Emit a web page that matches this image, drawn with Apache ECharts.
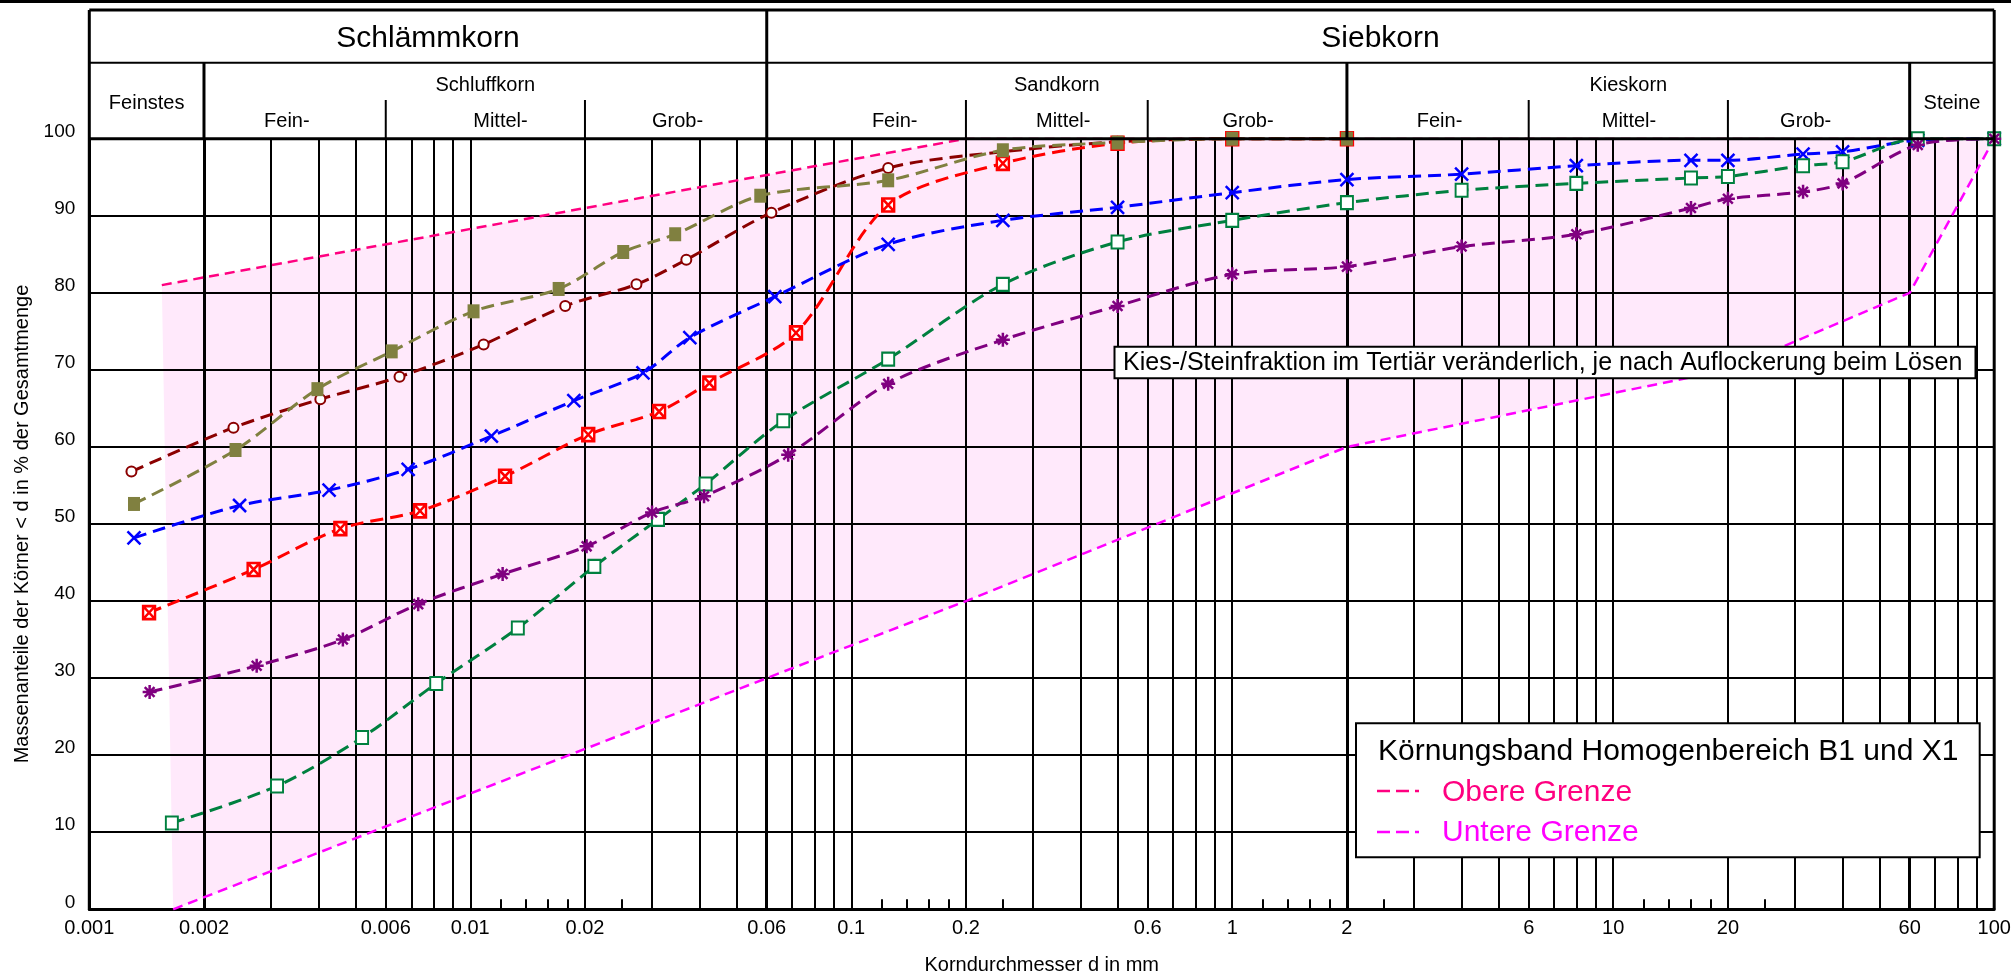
<!DOCTYPE html>
<html>
<head>
<meta charset="utf-8">
<title>Körnungsband Homogenbereich B1 und X1</title>
<script src="https://cdn.jsdelivr.net/npm/echarts@6/dist/echarts.min.js"></script>
<style>
  html, body { margin: 0; padding: 0; background: #fff; }
  #chart { width: 2011px; height: 975px; }
</style>
</head>
<body>
<div id="chart"></div>
<script>
const FONT = '"Liberation Sans", Arial, Helvetica, sans-serif';

// Korndurchmesser d [mm] und Siebdurchgang [%] je Probe
const dMaroon = [0.00129, 0.00239, 0.00404, 0.00652, 0.01084, 0.01775, 0.0273, 0.0369, 0.0617, 0.125, 0.25, 0.5, 1, 2];
const pMaroon = [56.8, 62.5, 66.2, 69.1, 73.3, 78.3, 81.1, 84.3, 90.4, 96.2, 98.3, 99.6, 100, 100];

const dRed = [0.001435, 0.0027, 0.00456, 0.00738, 0.01234, 0.0204, 0.0313, 0.0424, 0.0716, 0.125, 0.25, 0.5, 1, 2];
const pRed = [38.5, 44.1, 49.4, 51.7, 56.2, 61.6, 64.6, 68.3, 74.8, 91.4, 96.8, 99.4, 100, 100];

const dBlue = [0.00131, 0.00248, 0.00426, 0.00687, 0.01136, 0.0187, 0.0284, 0.0377, 0.063, 0.125, 0.25, 0.5, 1, 2, 4, 8, 16, 20, 31.5, 40, 63, 100];
const pBlue = [48.2, 52.4, 54.4, 57.1, 61.4, 66.0, 69.6, 74.2, 79.5, 86.3, 89.4, 91.1, 93.0, 94.7, 95.4, 96.5, 97.2, 97.2, 98.0, 98.3, 99.8, 100];

const dGreen = [0.001647, 0.00311, 0.0052, 0.00814, 0.01333, 0.02117, 0.0311, 0.04146, 0.0663, 0.125, 0.25, 0.5, 1, 2, 4, 8, 16, 20, 31.5, 40, 63, 100];
const pGreen = [11.2, 16.0, 22.3, 29.3, 36.5, 44.5, 50.6, 55.2, 63.4, 71.4, 81.1, 86.6, 89.4, 91.7, 93.3, 94.2, 94.9, 95.1, 96.5, 97.0, 100, 100];

const dPurple = [0.00144, 0.00275, 0.00463, 0.0073, 0.01216, 0.0202, 0.030, 0.04108, 0.0683, 0.125, 0.25, 0.5, 1, 2, 4, 8, 16, 20, 31.5, 40, 63, 100];
const pPurple = [28.2, 31.6, 35.0, 39.6, 43.5, 47.1, 51.5, 53.6, 59.0, 68.2, 73.9, 78.3, 82.4, 83.4, 86.0, 87.6, 91.0, 92.2, 93.1, 94.2, 99.2, 100];

const dOlive = [0.00131, 0.00242, 0.00397, 0.00622, 0.0102, 0.01706, 0.0252, 0.0345, 0.0577, 0.125, 0.25, 0.5, 1, 2];
const pOlive = [52.6, 59.6, 67.5, 72.4, 77.6, 80.5, 85.3, 87.6, 92.6, 94.6, 98.5, 99.5, 100, 100];

// Körnungsband
const dUpper = [0.00155, 0.2, 100];
const pUpper = [81, 100, 100];
const dLower = [0.00166, 0.06, 0.2, 2, 20, 60, 100];
const pLower = [0, 30, 40, 60, 70, 80, 100];

// Achsen / Raster
const xLabelValues = [0.001, 0.002, 0.006, 0.01, 0.02, 0.06, 0.1, 0.2, 0.6, 1, 2, 6, 10, 20, 60, 100];
const gridX = [0.002, 0.003, 0.004, 0.005, 0.006, 0.007, 0.008, 0.009, 0.01,
  0.02, 0.03, 0.04, 0.05, 0.06, 0.07, 0.08, 0.09, 0.1,
  0.2, 0.3, 0.4, 0.5, 0.6, 0.7, 0.8, 0.9, 1,
  2, 3, 4, 5, 6, 7, 8, 9, 10,
  20, 30, 40, 50, 60, 70, 80, 90];
const boldX = [0.002, 0.06, 2, 60];
const shortTicksX = [0.012, 0.014, 0.016, 0.018, 0.025, 0.12, 0.14, 0.16, 0.18, 0.25,
  1.2, 1.4, 1.6, 1.8, 2.5, 12, 14, 16, 18, 25];
const gridY = [10, 20, 30, 40, 50, 60, 70, 80, 90];

// Kopfzeile
const headMain = ['Schlämmkorn', 'Siebkorn'];
const headMainBounds = [[0.001, 0.06], [0.06, 100]];
const headGroups = ['Feinstes', 'Schluffkorn', 'Sandkorn', 'Kieskorn', 'Steine'];
const headGroupBounds = [[0.001, 0.002], [0.002, 0.06], [0.06, 2], [2, 60], [60, 100]];
const headSub = ['Fein-', 'Mittel-', 'Grob-', 'Fein-', 'Mittel-', 'Grob-', 'Fein-', 'Mittel-', 'Grob-'];
const headSubAt = [0.0033, 0.012, 0.035, 0.13, 0.36, 1.1, 3.5, 11, 32];
const headSubDividers = [0.006, 0.02, 0.2, 0.6, 6, 20];

const pairs = (d, p) => d.map((v, i) => [v, p[i]]);

const upperPts = pairs(dUpper, pUpper);
const lowerPts = pairs(dLower, pLower);
const bandPts = upperPts.concat(lowerPts.slice().reverse());

const gridMarks = [];
gridX.forEach(v => gridMarks.push({ xAxis: v, lineStyle: { width: boldX.indexOf(v) >= 0 ? 3 : 2 } }));
gridY.forEach(v => gridMarks.push({ yAxis: v }));
shortTicksX.forEach(v => gridMarks.push([{ coord: [v, 0] }, { coord: [v, 1.3] }]));

const dash = [13, 7];
function probe(name, d, p, color, symbol, size, itemStyle) {
  return {
    name: name,
    type: 'line',
    data: pairs(d, p),
    smooth: 0.3,
    z: 10,
    symbol: symbol,
    symbolSize: size,
    lineStyle: { color: color, width: 3, type: dash },
    itemStyle: itemStyle,
    emphasis: { disabled: true }
  };
}

const chart = echarts.init(document.getElementById('chart'));

const option = {
  animation: false,
  backgroundColor: '#fff',
  textStyle: { fontFamily: FONT },
  grid: {
    left: 89.3,
    right: 16.8,
    top: 138.7,
    bottom: 65.7,
    outerBoundsMode: 'none'
  },
  xAxis: {
    type: 'log',
    logBase: 10,
    min: 0.001,
    max: 100,
    name: 'Korndurchmesser d in mm',
    nameLocation: 'middle',
    nameGap: 46,
    nameMoveOverlap: false,
    nameTextStyle: { color: '#000', fontSize: 20, fontFamily: FONT },
    axisLine: { show: true, lineStyle: { color: '#000', width: 3 } },
    axisTick: { show: false },
    splitLine: { show: false },
    minorSplitLine: { show: false },
    axisLabel: {
      color: '#000',
      fontSize: 20,
      fontFamily: FONT,
      margin: 9,
      customValues: xLabelValues,
      formatter: v => String(v)
    }
  },
  yAxis: {
    type: 'value',
    min: 0,
    max: 100,
    interval: 10,
    name: 'Massenanteile der Körner < d in % der Gesamtmenge',
    nameLocation: 'middle',
    nameRotate: 90,
    nameGap: 57,
    nameMoveOverlap: false,
    nameTextStyle: { color: '#000', fontSize: 20, fontFamily: FONT },
    axisLine: { show: true, lineStyle: { color: '#000', width: 3 } },
    axisTick: { show: false },
    splitLine: { show: false },
    axisLabel: {
      color: '#000',
      fontSize: 19,
      fontFamily: FONT,
      margin: 14,
      verticalAlign: 'bottom',
      lineHeight: 14
    }
  },
  series: [
    {
      name: 'Körnungsband',
      type: 'custom',
      z: 1,
      silent: true,
      data: bandPts,
      renderItem: function (params, api) {
        if (params.dataIndex !== 0) return;
        const pts = bandPts.map(p => api.coord(p));
        return { type: 'polygon', shape: { points: pts }, style: { fill: '#ffe9fb' } };
      },
      markLine: {
        silent: true,
        precision: 10,
        symbol: ['none', 'none'],
        animation: false,
        label: { show: false },
        emphasis: { disabled: true },
        lineStyle: { color: '#000', width: 2, type: 'solid' },
        data: gridMarks
      }
    },
    {
      name: 'Obere Grenze',
      type: 'line',
      data: upperPts,
      z: 8,
      symbol: 'none',
      lineStyle: { color: '#ff0080', width: 2.5, type: [10, 6] },
      emphasis: { disabled: true }
    },
    {
      name: 'Untere Grenze',
      type: 'line',
      data: lowerPts,
      z: 8,
      symbol: 'none',
      lineStyle: { color: '#ff00ff', width: 2.5, type: [10, 6] },
      emphasis: { disabled: true }
    },
    probe('Probe 1', dMaroon, pMaroon, '#8b0000', 'emptyCircle', 10, { color: '#8b0000' }),
    probe('Probe 2', dRed, pRed, '#ff0000', 'path://M0,0H10V10H0Z M0,0L10,10 M10,0L0,10', [12, 13],
      { color: '#fff', borderColor: '#ff0000', borderWidth: 2.5 }),
    probe('Probe 3', dBlue, pBlue, '#0000ff', 'path://M0,0L10,10 M10,0L0,10', 13,
      { color: '#0000ff', borderColor: '#0000ff', borderWidth: 2.5 }),
    probe('Probe 4', dGreen, pGreen, '#00803f', 'emptyRect', [12, 13], { color: '#00803f' }),
    probe('Probe 5', dPurple, pPurple, '#800080', 'path://M5,0V10 M0,5H10 M1.5,1.5L8.5,8.5 M8.5,1.5L1.5,8.5', 14,
      { color: '#800080', borderColor: '#800080', borderWidth: 2.5 }),
    probe('Probe 6', dOlive, pOlive, '#808040', 'rect', [12, 14], { color: '#808040' })
  ]
};

chart.setOption(option);

// Kopfzeile, Rahmen und Beschriftungskästen an den Achsen ausrichten
const X = v => chart.convertToPixel({ xAxisIndex: 0 }, v);
const Y = v => chart.convertToPixel({ yAxisIndex: 0 }, v);
const HEAD_TOP = 10, HEAD_MID = 62.7, HEAD_SUB = 100;
const yTop = Y(100), yBot = Y(0);
const x0 = X(0.001), x1 = X(100);

const g = [];
const ln = (xa, ya, xb, yb, w) => g.push({
  type: 'line', z: 50, silent: true,
  shape: { x1: xa, y1: ya, x2: xb, y2: yb },
  style: { stroke: '#000', lineWidth: w }
});
const tx = (text, x, y, size, extra) => g.push({
  type: 'text', z: 61, silent: true, x: x, y: y,
  style: Object.assign({
    text: text, fontSize: size, fontFamily: FONT, fill: '#000',
    align: 'center', verticalAlign: 'middle'
  }, extra || {})
});

ln(0, 1.5, 2011, 1.5, 3);
ln(x0, HEAD_TOP, x1, HEAD_TOP, 3);
ln(x0, HEAD_TOP, x0, yBot, 3);
ln(x1, HEAD_TOP, x1, yBot, 3);
ln(x0, HEAD_MID, x1, HEAD_MID, 2);
ln(x0, yTop, x1, yTop, 3);
ln(X(0.06), HEAD_TOP, X(0.06), yTop, 3);
[0.002, 2, 60].forEach(v => ln(X(v), HEAD_MID, X(v), yTop, 3));
headSubDividers.forEach(v => ln(X(v), HEAD_SUB, X(v), yTop, 2));

headMain.forEach((t, i) => tx(t, (X(headMainBounds[i][0]) + X(headMainBounds[i][1])) / 2, 39, 30));
headGroups.forEach((t, i) => {
  const single = (t === 'Feinstes' || t === 'Steine');
  tx(t, (X(headGroupBounds[i][0]) + X(headGroupBounds[i][1])) / 2, single ? 103 : 85, 20);
});
headSub.forEach((t, i) => tx(t, X(headSubAt[i]), 121.5, 20));

// Hinweis Kies-/Steinfraktion
g.push({
  type: 'rect', z: 60, silent: true,
  shape: { x: 1114.5, y: 346.7, width: 861, height: 31.6 },
  style: { fill: '#fff', stroke: '#000', lineWidth: 2 }
});
tx('Kies-/Steinfraktion im Tertiär veränderlich, je nach Auflockerung beim Lösen', 1123, 363, 25, { align: 'left' });

// Legende Körnungsband
g.push({
  type: 'rect', z: 60, silent: true,
  shape: { x: 1356, y: 723.3, width: 623.7, height: 134 },
  style: { fill: '#fff', stroke: '#000', lineWidth: 2 }
});
tx('Körnungsband Homogenbereich B1 und X1', 1378, 752, 30, { align: 'left' });
tx('Obere Grenze', 1442, 792.5, 30, { align: 'left', fill: '#ff0080' });
tx('Untere Grenze', 1442, 832.5, 30, { align: 'left', fill: '#ff00ff' });
[[791, '#ff0080'], [832, '#ff00ff']].forEach(function (r) {
  g.push({
    type: 'line', z: 61, silent: true,
    shape: { x1: 1377, y1: r[0], x2: 1419, y2: r[0] },
    style: { stroke: r[1], lineWidth: 2.5, lineDash: [13, 6] }
  });
});

chart.setOption({ graphic: g });
</script>
</body>
</html>
